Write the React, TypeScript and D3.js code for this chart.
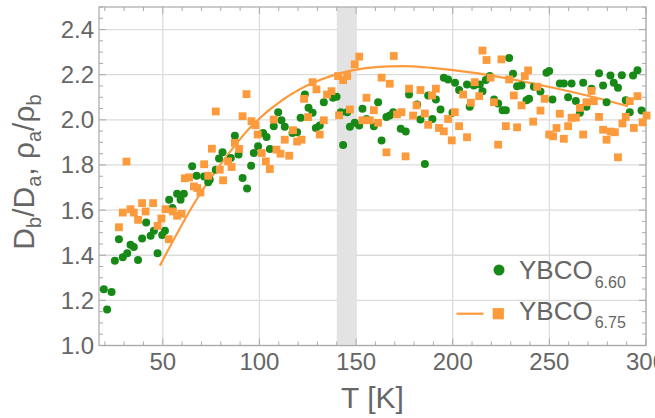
import React, { useEffect, useRef } from 'react';
import * as d3 from 'd3';

// YBCO 6.60 (green circles): temperature [K] and ratio
const greenT = [41.4, 45.4, 49.7, 43.7, 39.3, 27.3, 33.3, 35.0, 31.6, 29.3, 25.2, 37.2, 47.3, 19.5, 23.5, 21.2,
  51.1, 53.3, 55.0, 57.4, 60.9, 59.2, 65.2, 67.5, 71.4, 74.3, 73.5, 77.4, 79.1, 80.9, 85.2, 89.2, 87.3, 91.3, 93.6,
  95.7, 97.1, 99.3, 101.9, 103.7, 105.4, 107.4, 109.7, 111.4, 113.1, 117.1, 119.5, 121.3, 123.5, 125.4, 127.5,
  129.2, 131.2, 133.3, 138.1, 139.9, 142.1, 143.3, 145.4, 146.8, 149.3, 151.6, 153.3, 155.4, 159.2, 161.4, 163.2,
  165.7, 167.4, 169.2, 173.1, 175.7, 177.4, 181.6, 183.3, 185.6, 187.3, 189.5, 191.3, 193.7, 195.4, 197.6, 199.9,
  201.2, 203.3, 207.4, 208.8, 210.9, 214.0, 215.4, 217.1, 219.2, 221.4, 223.5, 225.8, 227.5, 229.2, 231.2, 233.3,
  235.6, 238.2, 239.5, 242.0, 245.4, 248.5, 249.9, 251.6, 255.4, 257.5, 259.7, 261.5, 263.7, 265.8, 267.5, 269.2,
  271.8, 275.7, 277.8, 279.6, 281.6, 283.3, 285.5, 287.5, 289.5, 291.6, 293.3, 295.6, 297.7];
const greenV = [1.545, 1.509, 1.490, 1.486, 1.474, 1.471, 1.447, 1.436, 1.409, 1.391, 1.376, 1.379, 1.409, 1.249, 1.237, 1.160,
  1.509, 1.646, 1.609, 1.672, 1.672, 1.646, 1.794, 1.752, 1.749, 1.735, 1.723, 1.779, 1.829, 1.856, 1.831, 1.846, 1.930, 1.742, 1.696,
  1.797, 1.853, 1.883, 1.942, 1.924, 1.871, 1.972, 2.034, 1.998, 1.969, 1.942, 1.945, 2.009, 2.112, 2.053, 2.031,
  1.964, 1.975, 2.078, 2.098, 2.102, 2.034, 1.889, 2.034, 1.969, 1.987, 1.975, 2.049, 2.004, 1.972, 2.078, 1.908,
  2.013, 2.019, 2.034, 1.960, 1.948, 2.112, 2.068, 2.001, 1.804, 2.108, 2.004, 2.090, 2.046, 2.187, 2.179, 2.031,
  2.164, 2.132, 2.157, 2.058, 2.152, 2.157, 2.127, 2.176, 2.194, 2.090, 2.072, 2.043, 2.043, 2.274, 2.204, 2.149,
  2.152, 2.087, 2.093, 2.147, 2.126, 2.209, 2.216, 2.090, 2.161, 2.161, 2.100, 2.161, 2.083, 2.031, 2.164, 2.058,
  2.138, 2.206, 2.152, 2.078, 2.197, 2.164, 2.142, 2.198, 2.087, 2.034, 2.197, 2.220, 2.041];

// YBCO 6.75 (orange squares)
const orangeT = [27.3, 29.3, 31.2, 33.3, 35.0, 37.2, 39.3, 41.1, 45.0, 47.3, 49.3, 51.4, 53.1, 55.2, 57.4, 59.7,
  61.4, 63.6, 66.1, 67.8, 69.5, 71.4, 73.5, 75.4, 77.4, 79.5, 81.2, 83.8, 85.6, 87.3, 89.5, 91.3, 93.3, 95.9, 97.9,
  99.1, 101.2, 103.3, 105.4, 107.4, 108.8, 110.9, 113.1, 115.4, 117.4, 119.5, 121.8, 123.1, 125.2, 127.5, 129.5,
  131.2, 133.3, 135.0, 137.3, 140.7, 141.2, 143.3, 145.4, 146.8, 149.3, 151.6, 153.3, 155.4, 157.1, 159.2, 161.4,
  163.2, 165.7, 167.4, 169.5, 171.2, 173.5, 175.6, 177.4, 179.5, 181.3, 183.3, 185.6, 187.3, 189.3, 191.3, 192.9,
  195.4, 197.6, 199.5, 201.1, 203.3, 205.4, 207.4, 209.4, 211.4, 213.7, 215.4, 217.5, 219.6, 221.3, 223.5, 225.2,
  227.5, 229.2, 231.6, 233.3, 235.6, 237.3, 239.0, 241.6, 243.7, 245.4, 247.6, 249.9, 251.9, 253.7, 255.4, 257.5,
  259.7, 261.5, 263.7, 265.8, 267.5, 269.2, 271.8, 273.0, 275.7, 277.8, 279.6, 281.8, 283.9, 285.5, 287.8, 289.5,
  291.6, 293.7, 295.6, 298.2, 300.3];
const orangeV = [1.524, 1.589, 1.815, 1.604, 1.589, 1.557, 1.631, 1.594, 1.631, 1.530, 1.563, 1.604, 1.471, 1.594, 1.575, 1.584,
  1.741, 1.745, 1.705, 1.698, 1.678, 1.803, 1.752, 1.872, 2.037, 1.779, 1.732, 1.816, 1.791, 1.898, 1.871, 2.016, 2.114, 1.994, 1.976,
  1.935, 1.853, 1.816, 1.782, 2.001, 1.868, 1.850, 1.912, 1.841, 1.954, 1.904, 1.912, 2.093, 2.012, 2.167, 2.135,
  1.935, 1.998, 2.112, 2.127, 2.194, 2.020, 2.176, 2.194, 2.046, 2.246, 2.280, 1.998, 2.098, 1.998, 2.043, 1.987,
  2.187, 1.856, 2.160, 2.283, 2.024, 2.034, 1.838, 2.138, 2.019, 2.064, 2.132, 2.028, 1.978, 2.108, 2.138, 1.964,
  1.949, 2.004, 1.909, 2.034, 1.972, 2.112, 1.923, 2.076, 2.167, 2.105, 2.307, 2.265, 2.187, 2.078, 1.890, 2.268,
  1.972, 2.179, 2.108, 1.967, 2.064, 2.194, 2.219, 1.992, 2.147, 2.041, 2.093, 1.935, 1.927, 1.964, 2.027, 1.916,
  1.972, 2.009, 2.010, 2.053, 1.935, 2.078, 2.128, 2.083, 2.013, 1.956, 1.912, 1.948, 1.945, 1.834, 1.984, 2.013,
  2.083, 1.964, 2.105, 1.989, 2.019];

// fitted curve for YBCO 6.75
const fitT = [48.5, 67.4, 83, 96.7, 112.3, 127.8, 148.5, 174.3, 200.2, 226, 251.9, 277.8, 290.7];
const fitV = [1.354, 1.646, 1.838, 1.979, 2.09, 2.164, 2.22, 2.238, 2.22, 2.187, 2.142, 2.09, 2.06];

const band = [140, 150];
const xTicks = [50, 100, 150, 200, 250, 300];
const yTicks = [1.0, 1.2, 1.4, 1.6, 1.8, 2.0, 2.2, 2.4];

const GREEN = '#178917';
const ORANGE = '#fd9a3c';
const FONT = '"Liberation Sans", Arial, sans-serif';

export default function App() {
  const ref = useRef<SVGSVGElement>(null);

  useEffect(() => {
    const svg = d3.select(ref.current);
    svg.selectAll('*').remove();

    const left = 99, right = 646, top = 7, bottom = 345.5;
    const x = d3.scaleLinear().domain([17, 300]).range([left, right]);
    const y = d3.scaleLinear().domain([1.0, 2.5]).range([bottom, top]);

    const g = svg.append('g');

    // grid
    g.selectAll('.gx').data(xTicks).join('line').attr('class', 'gx')
      .attr('x1', d => x(d)).attr('x2', d => x(d)).attr('y1', top).attr('y2', bottom)
      .attr('stroke', '#dcdcdc').attr('stroke-width', 1.3);
    g.selectAll('.gy').data(yTicks).join('line').attr('class', 'gy')
      .attr('x1', left).attr('x2', right).attr('y1', d => y(d)).attr('y2', d => y(d))
      .attr('stroke', '#dcdcdc').attr('stroke-width', 1.3);

    // shaded band
    g.append('rect')
      .attr('x', x(band[0])).attr('width', x(band[1]) - x(band[0]))
      .attr('y', top).attr('height', bottom - top)
      .attr('fill', '#e3e3e3');

    // frame ticks (inward, all four sides)
    const xMinor = d3.range(20, 301, 10);
    const yMinor = d3.range(1.0, 2.501, 0.05);
    const tickCol = '#aaaaaa';
    xMinor.forEach(t => {
      const len = t % 50 === 0 ? 7 : 4;
      g.append('line').attr('x1', x(t)).attr('x2', x(t)).attr('y1', bottom).attr('y2', bottom - len).attr('stroke', tickCol);
      g.append('line').attr('x1', x(t)).attr('x2', x(t)).attr('y1', top).attr('y2', top + len).attr('stroke', tickCol);
    });
    yMinor.forEach(v => {
      const major = Math.abs(v * 5 - Math.round(v * 5)) < 1e-6;
      const len = major ? 7 : 4;
      g.append('line').attr('x1', left).attr('x2', left + len).attr('y1', y(v)).attr('y2', y(v)).attr('stroke', tickCol);
      g.append('line').attr('x1', right).attr('x2', right - len).attr('y1', y(v)).attr('y2', y(v)).attr('stroke', tickCol);
    });

    g.append('rect').attr('x', left).attr('y', top).attr('width', right - left).attr('height', bottom - top)
      .attr('fill', 'none').attr('stroke', tickCol).attr('stroke-width', 1.2);

    // tick labels
    g.selectAll('.xl').data(xTicks).join('text').attr('class', 'xl')
      .attr('x', d => x(d)).attr('y', 370)
      .attr('text-anchor', 'middle').attr('font-family', FONT).attr('font-size', 24).attr('fill', '#666')
      .text(d => d);
    g.selectAll('.yl').data(yTicks).join('text').attr('class', 'yl')
      .attr('x', 94).attr('y', d => y(d) + 8.5)
      .attr('text-anchor', 'end').attr('font-family', FONT).attr('font-size', 24).attr('fill', '#666')
      .text(d => d3.format('.1f')(d));

    // axis titles
    g.append('text').attr('x', (left + right) / 2).attr('y', 408)
      .attr('text-anchor', 'middle').attr('font-family', FONT).attr('font-size', 30).attr('fill', '#666')
      .text('T [K]');
    const yt = g.append('text').attr('transform', 'translate(33.5, 172) rotate(-90)')
      .attr('text-anchor', 'middle').attr('font-family', FONT).attr('font-size', 30).attr('fill', '#666');
    const sub = (s: string) => { yt.append('tspan').attr('font-size', 20).attr('dy', 7).text(s); };
    const norm = (s: string) => { yt.append('tspan').attr('dy', -7).text(s); };
    yt.append('tspan').text('D');
    sub('b'); norm('/D'); sub('a'); norm(', ρ'); sub('a'); norm('/ρ'); sub('b');

    // fit line
    const fit = fitT.map((t, i) => [t, fitV[i]] as [number, number]);
    g.append('path').datum(fit)
      .attr('d', d3.line<[number, number]>().x(d => x(d[0])).y(d => y(d[1])).curve(d3.curveCatmullRom.alpha(0.5)))
      .attr('fill', 'none').attr('stroke', ORANGE).attr('stroke-width', 2.2);

    // points
    const gpts = greenT.map((t, i) => [t, greenV[i]]);
    const opts = orangeT.map((t, i) => [t, orangeV[i]]);
    g.selectAll('.gp').data(gpts).join('circle').attr('class', 'gp')
      .attr('cx', d => x(d[0])).attr('cy', d => y(d[1])).attr('r', 4).attr('fill', GREEN);
    g.selectAll('.op').data(opts).join('rect').attr('class', 'op')
      .attr('x', d => x(d[0]) - 3.9).attr('y', d => y(d[1]) - 3.9).attr('width', 7.8).attr('height', 7.8)
      .attr('fill', ORANGE);

    // legend
    const lg = g.append('g');
    lg.append('circle').attr('cx', 499).attr('cy', 270).attr('r', 5.5).attr('fill', GREEN);
    lg.append('line').attr('x1', 456.5).attr('x2', 483.5).attr('y1', 313.7).attr('y2', 313.7)
      .attr('stroke', ORANGE).attr('stroke-width', 2.2);
    lg.append('rect').attr('x', 498.3 - 5.6).attr('y', 313.7 - 5.6).attr('width', 11.2).attr('height', 11.2).attr('fill', ORANGE);
    [['6.60', 279], ['6.75', 319.5]].forEach(([s, by]) => {
      const t = lg.append('text').attr('x', 519).attr('y', by as number)
        .attr('font-family', FONT).attr('font-size', 26).attr('fill', '#666');
      t.append('tspan').text('YBCO');
      t.append('tspan').attr('font-size', 16).attr('dy', 8.5).attr('dx', 2).text(s as string);
    });
  }, []);

  return (
    <svg ref={ref} width={655} height={418}
      style={{ position: 'absolute', left: 0, top: 0, background: '#fff' }} />
  );
}
